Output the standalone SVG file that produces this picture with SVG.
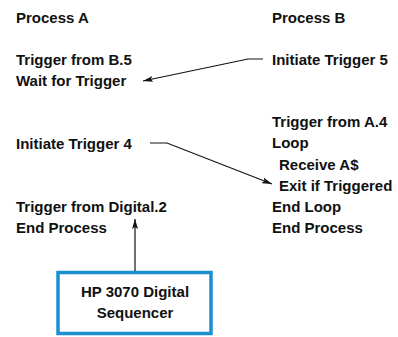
<svg xmlns="http://www.w3.org/2000/svg" width="398" height="337" viewBox="0 0 398 337">
  <style>
    text { font-family: "Liberation Sans", Arial, sans-serif; font-weight: bold; font-size: 15px; fill: #111; }
    .mid { text-anchor: middle; }
    .wire { fill: none; stroke: #111; stroke-width: 1.2; }
    .box { fill: #fff; stroke: #1b8fd0; stroke-width: 3.5; }
  </style>
  <defs>
    <marker id="arrow" viewBox="0 0 10 6" refX="10" refY="3" markerWidth="10" markerHeight="6" markerUnits="userSpaceOnUse" orient="auto">
      <path d="M0,0 L10,3 L0,6 L2,3 Z" fill="#111"/>
    </marker>
  </defs>

  <g id="process-a">
    <text x="16" y="23">Process A</text>
    <text x="16" y="65">Trigger from B.5</text>
    <text x="16" y="86">Wait for Trigger</text>
    <text x="16" y="149">Initiate Trigger 4</text>
    <text x="16" y="212">Trigger from Digital.2</text>
    <text x="16" y="233">End Process</text>
  </g>

  <g id="process-b">
    <text x="272" y="23">Process B</text>
    <text x="272" y="65">Initiate Trigger 5</text>
    <text x="272" y="127">Trigger from A.4</text>
    <text x="272" y="148">Loop</text>
    <text x="279" y="170">Receive A$</text>
    <text x="279" y="191">Exit if Triggered</text>
    <text x="272" y="212">End Loop</text>
    <text x="272" y="233">End Process</text>
  </g>

  <g id="sequencer">
    <rect class="box" x="58" y="272.5" width="153" height="61"/>
    <text class="mid" x="135" y="297">HP 3070 Digital</text>
    <text class="mid" x="135" y="318">Sequencer</text>
  </g>

  <g id="connectors">
    <path class="wire" d="M263,59 H248 L143,81" marker-end="url(#arrow)"/>
    <path class="wire" d="M150,143 H167 L272,184" marker-end="url(#arrow)"/>
    <path class="wire" d="M135,271 V219" marker-end="url(#arrow)"/>
  </g>
</svg>
